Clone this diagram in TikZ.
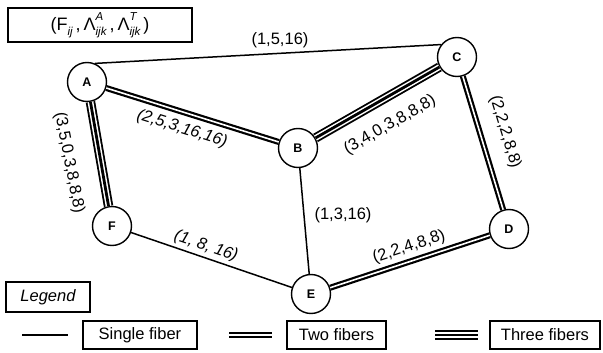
\documentclass[tikz,border=0pt]{standalone}
\usepackage{fontspec}
\setmainfont{Liberation Sans}
\newcommand{\idxfont}{\fontsize{11.5}{12}\selectfont\itshape}
\newcommand{\lamidx}[2]{\rlap{\raisebox{0.55em}{\idxfont #1}}\raisebox{-0.3em}{\idxfont #2}}
\begin{document}
\begin{tikzpicture}[x=1pt,y=-1pt,
  vertex/.style={circle, draw, line width=1.4pt, fill=white, minimum size=39pt,
    inner sep=0pt, font=\bfseries\fontsize{12.5}{13}\selectfont},
  lbl/.style={font=\fontsize{16.5}{18}\selectfont, inner sep=1pt},
  lblit/.style={lbl, font=\fontsize{16.5}{18}\selectfont\itshape},
  lbox/.style={draw, line width=1.3pt, inner sep=0pt, minimum height=28pt,
    font=\fontsize{16.5}{18}\selectfont},
  fibA/.style={line width=1.5pt},
  fibB/.style={line width=2.2pt, double=white, double distance=1.6pt},
  fibC/.style={line width=2.8pt, preaction={draw, line width=9.5pt},
    preaction={draw=white, line width=5.8pt}}]
\path[use as bounding box] (0,0) rectangle (603,353);

% title box
\node[draw, line width=1.3pt, minimum width=184pt, minimum height=34pt, inner sep=0pt,
  font=\fontsize{18}{19}\selectfont] (title) at (100,25)
  {(F\raisebox{-0.3em}{\idxfont ij}\,,\,Λ\lamidx{A}{ijk}\,,\,Λ\lamidx{T}{ijk}\,)};

% network nodes
\node[vertex] (A) at (87,82) {A};
\node[vertex] (B) at (298,148) {B};
\node[vertex] (C) at (457,57) {C};
\node[vertex] (D) at (509,229) {D};
\node[vertex] (E) at (311,294) {E};
\node[vertex] (F) at (112,226) {F};

% links
\draw[fibA] (A.67) -- (C.142);
\draw[fibB] (A) -- (B);
\draw[fibC] (B) -- (C);
\draw[fibB] (C) -- (D);
\draw[fibC] (A) -- (F);
\draw[fibA] (F) -- (E);
\draw[fibA] (B) -- (E);
\draw[fibB] (E) -- (D);

% link labels
\node[lbl] (lAC) at (280,40) {(1,5,16)};
\node[lblit, rotate=-17.4] (lAB) at (182,129) {(2,5,3,16,16)};
\node[lbl, rotate=29.8] (lBC) at (390,125) {(3,4,0,3,8,8,8)};
\node[lbl, rotate=-73.2] (lCD) at (505,132) {(2,2,2,8,8)};
\node[lbl, rotate=-79] (lAF) at (69,163) {(3,5,0,3,8,8,8)};
\node[lblit, rotate=-19] (lFE) at (206,246) {(1, 8, 16)};
\node[lbl] (lBE) at (343,215) {(1,3,16)};
\node[lbl, rotate=18.1] (lED) at (409,247) {(2,2,4,8,8)};

% legend
\node[lbox, minimum width=84pt, minimum height=30pt, font=\fontsize{16.5}{18}\selectfont\itshape]
  (leg) at (48,297) {Legend};
\coordinate (s1) at (22,335);
\coordinate (s2) at (68,335);
\draw[fibA] (s1) -- (s2);
\node[lbox, minimum width=114pt] (single) at (140,335) {Single fiber};
\coordinate (d1) at (229,335);
\coordinate (d2) at (272,335);
\draw[fibB] (d1) -- (d2);
\node[lbox, minimum width=99pt] (two) at (336.5,335) {Two fibers};
\coordinate (t1) at (435,335);
\coordinate (t2) at (478,335);
\draw[fibC] (t1) -- (t2);
\node[lbox, minimum width=110pt] (three) at (545,335) {Three fibers};
\end{tikzpicture}
\end{document}
